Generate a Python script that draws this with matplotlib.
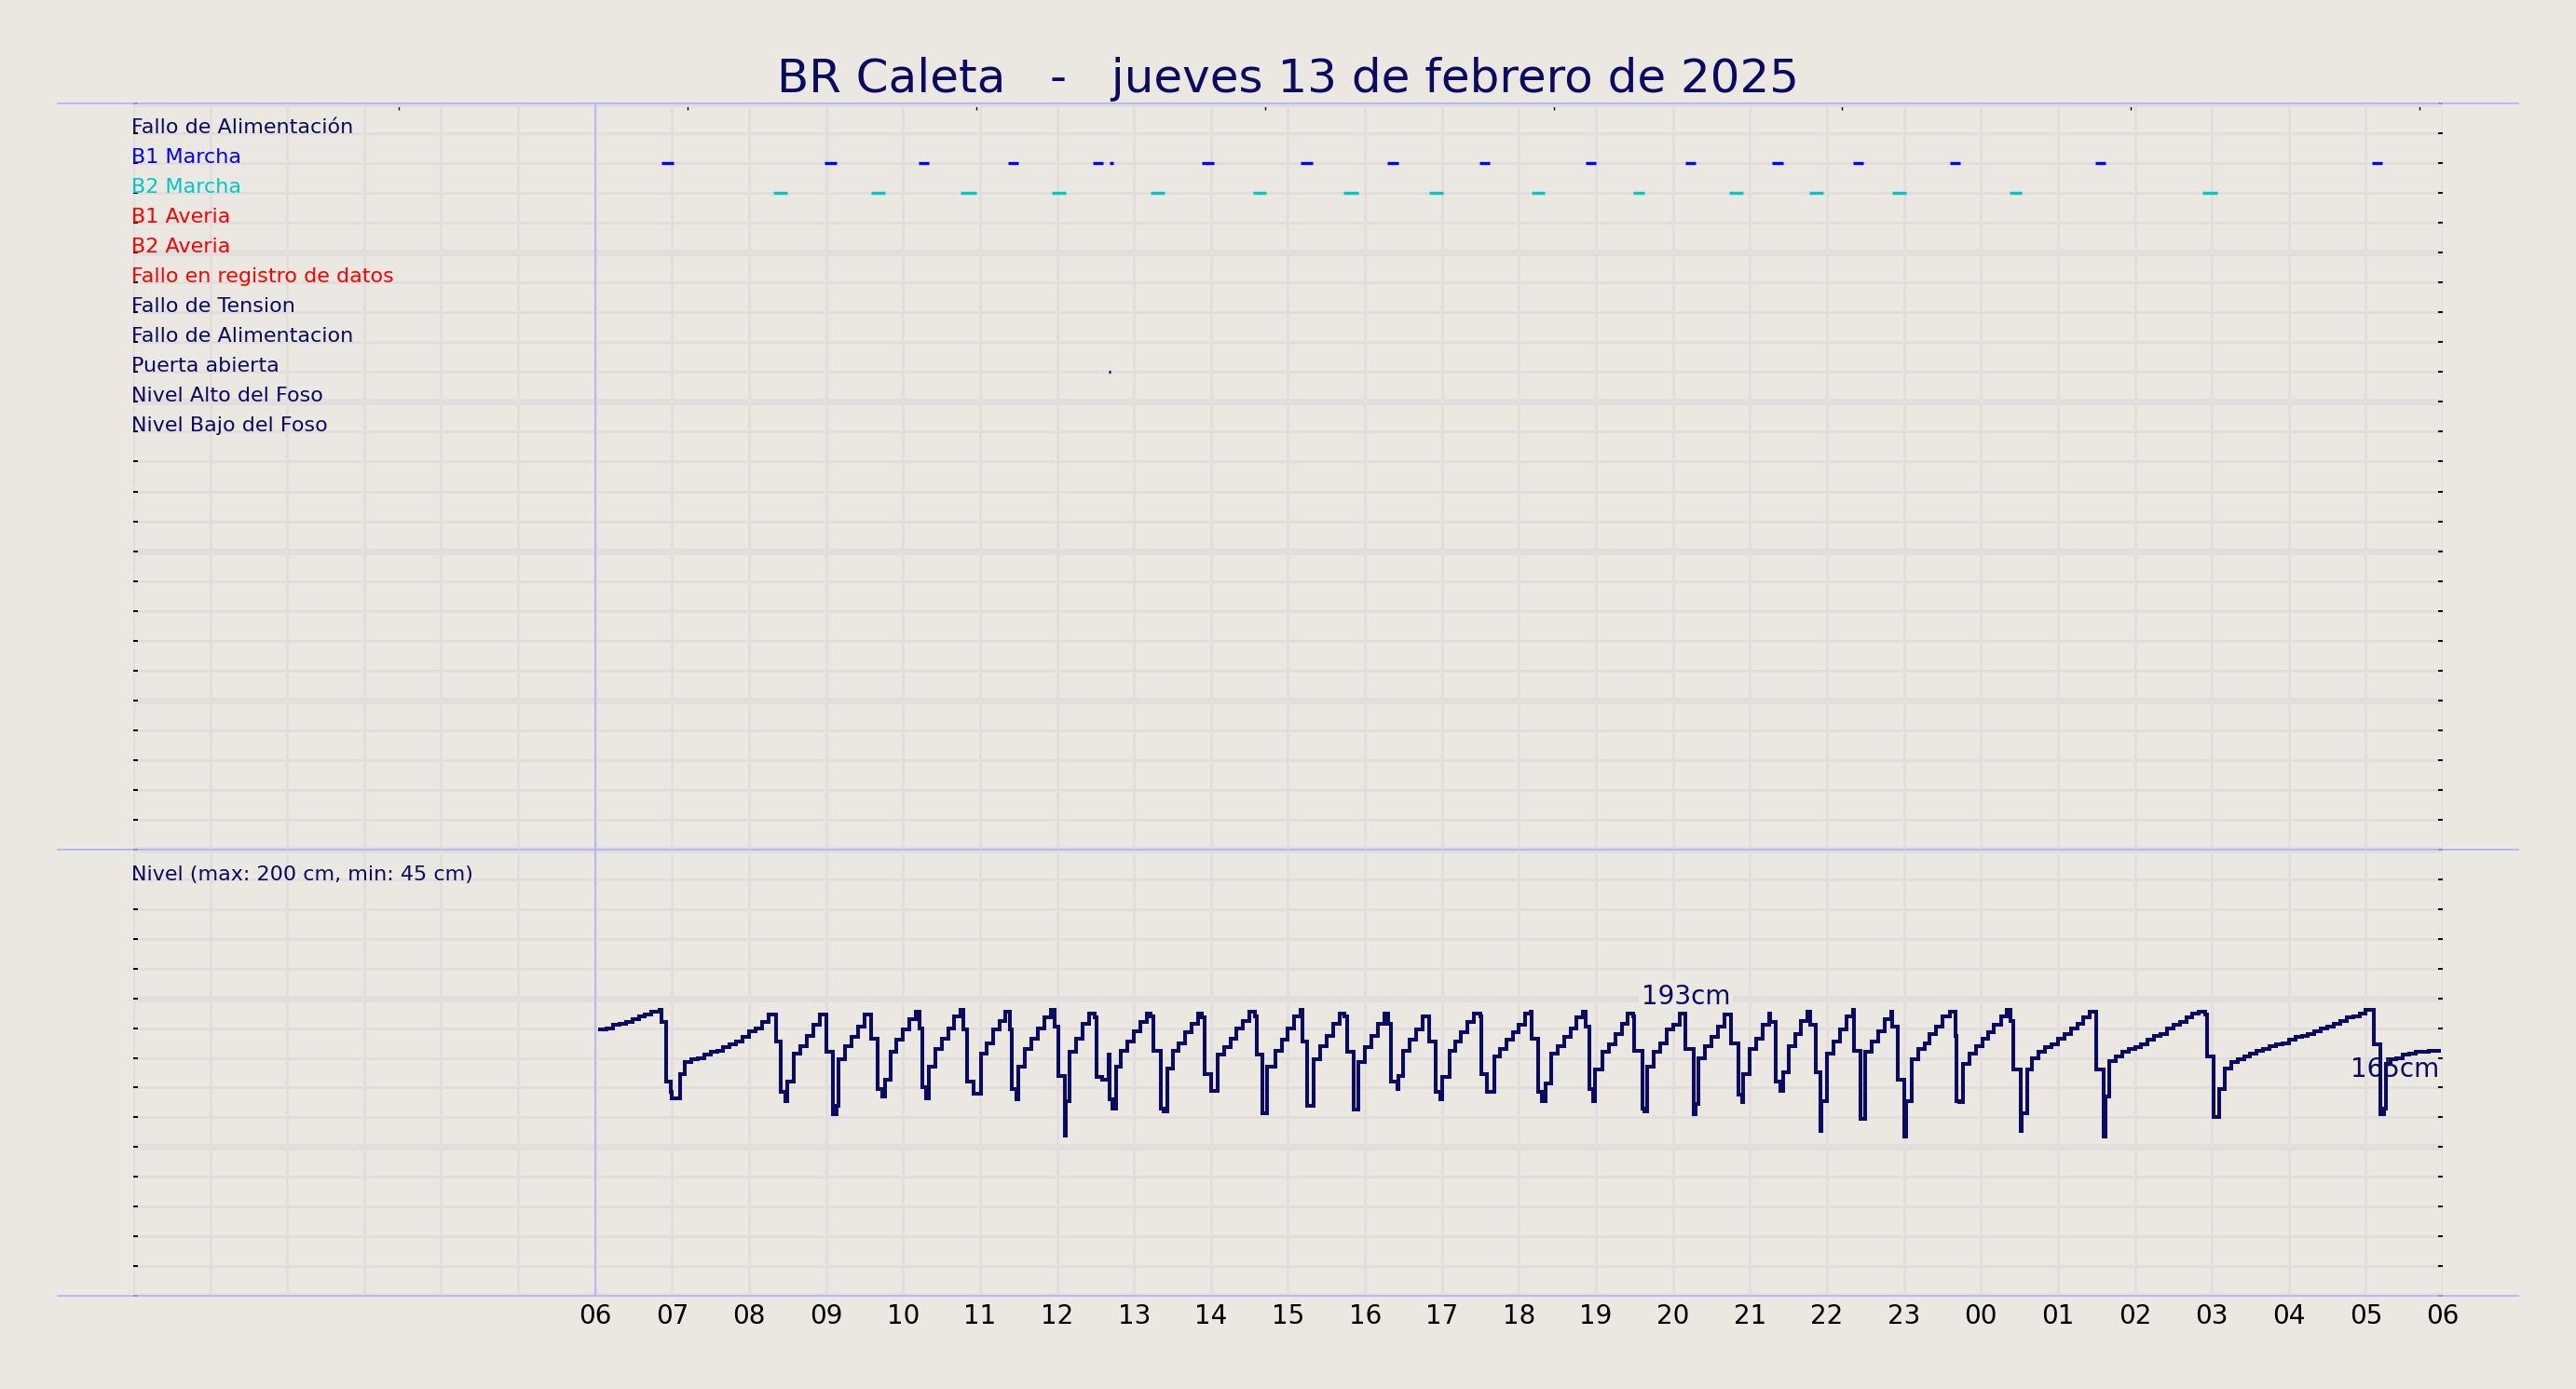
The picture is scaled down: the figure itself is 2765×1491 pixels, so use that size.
import matplotlib
matplotlib.use("Agg")
import matplotlib.pyplot as plt

TITLE = "BR Caleta   -   jueves 13 de febrero de 2025"
BG = "#ebe7e1"
GRID = "#e2dedd"
NAVY = "#0a0a62"
LAVENDER = "#b0b0ff"

# signal rows (top panel)
signal_names = ["Fallo de Alimentación", "B1 Marcha", "B2 Marcha", "B1 Averia", "B2 Averia",
                "Fallo en registro de datos", "Fallo de Tension", "Fallo de Alimentacion",
                "Puerta abierta", "Nivel Alto del Foso", "Nivel Bajo del Foso"]
signal_colors = [NAVY, "#0000ff", "#00c8c8", "#ff0000", "#ff0000",
                 "#ff0000", NAVY, NAVY, NAVY, NAVY, NAVY]

# on/off periods, minutes after 06:00
b1_start = [52, 179, 252, 322, 388, 401, 473, 550, 617, 689, 772, 850, 917, 980, 1056, 1169, 1385]
b1_end = [61, 188, 260, 330, 396, 404, 482, 559, 626, 697, 780, 858, 926, 988, 1064, 1177, 1393]
b2_start = [139, 215, 285, 356, 433, 513, 583, 650, 730, 809, 884, 946, 1011, 1102, 1253]
b2_end = [150, 226, 297, 367, 444, 523, 595, 661, 740, 818, 895, 957, 1022, 1112, 1264]
door_start = [400.5]
door_end = [402]

# level readings (minutes after 06:00, cm)
level_min = [
    4, 9, 14, 19, 24, 29, 34, 39, 44, 50,
    52, 55, 59, 60, 66, 70, 75, 80, 85, 90, 95, 100, 105, 110, 115, 120, 125, 130, 135,
    141, 145, 148, 150, 155, 160, 165, 170, 175,
    180, 185, 188, 190, 195, 200, 205, 210,
    215, 220, 224, 226, 230, 235, 240, 245, 250,
    253, 255, 258, 260, 265, 270, 275, 280, 285,
    287, 290, 295, 301, 305, 310, 315, 320,
    323, 325, 328, 330, 335, 340, 345, 350, 355,
    358, 361, 366, 367, 370, 375, 380, 385,
    389, 391, 395, 400, 401, 403, 406, 410, 415, 420, 425, 430,
    433, 435, 441, 443, 446, 450, 455, 460, 465, 470,
    473, 475, 480, 485, 490, 495, 500, 505, 510,
    514, 516, 520, 524, 530, 535, 540, 545, 550,
    551, 555, 560, 565, 570, 575, 580,
    584, 586, 591, 595, 600, 605, 610, 615,
    618, 620, 625, 626, 630, 635, 640, 645,
    650, 655, 659, 660, 666, 670, 675, 680, 685,
    690, 691, 695, 701, 705, 710, 715, 720, 725, 729,
    730, 735, 738, 741, 745, 750, 755, 760, 765, 770,
    772, 775, 778, 779, 785, 790, 795, 800, 805,
    809, 810, 816, 818, 820, 825, 830, 835, 840, 845,
    850, 856, 858, 860, 865, 870, 875, 880,
    885, 891, 894, 895, 900, 905, 910, 915,
    916, 920, 924, 926, 930, 935, 940, 945,
    947, 951, 955, 956, 960, 965, 970, 975, 980,
    981, 986, 990, 995, 1000, 1005, 1010,
    1011, 1015, 1020, 1022, 1026, 1031, 1036, 1040, 1045, 1050, 1056,
    1060, 1061, 1063, 1066, 1071, 1076, 1081, 1086, 1090, 1096, 1100,
    1103, 1105, 1111, 1112, 1116, 1120, 1125, 1130, 1135, 1140, 1145, 1150, 1155, 1160, 1165,
    1170, 1176, 1177, 1180, 1185, 1190, 1195, 1200, 1205, 1210, 1215, 1220, 1225, 1230, 1235,
    1240, 1245, 1250,
    1255, 1256, 1261, 1266, 1270, 1275, 1280, 1285, 1290, 1295, 1300, 1305, 1310, 1315, 1320,
    1325, 1330, 1335, 1340, 1345, 1350, 1355, 1360, 1365, 1370, 1375, 1380,
    1386, 1391, 1394, 1396, 1399, 1404, 1409, 1414, 1419, 1424, 1429, 1437,
]
level_cm = [
    179, 180, 182, 183, 184, 186, 188, 189, 191, 192,
    184, 144, 137, 133, 149, 157, 159, 160, 162, 164, 165, 167, 169, 171, 174, 178, 180, 184, 189,
    171, 137, 131, 144, 163, 168, 175, 182, 189,
    164, 122, 128, 159, 168, 174, 181, 189,
    173, 139, 134, 145, 164, 172, 179, 186, 191,
    180, 140, 133, 154, 166, 173, 180, 188, 192,
    179, 144, 136, 163, 170, 179, 185, 191,
    179, 139, 132, 154, 166, 173, 180, 187, 192,
    181, 148, 108, 131, 164, 173, 183, 190,
    187, 147, 145, 162, 132, 126, 154, 165, 171, 178, 184, 190,
    188, 165, 126, 124, 153, 165, 170, 177, 183, 190,
    187, 149, 138, 162, 167, 173, 180, 185, 191,
    188, 162, 123, 154, 165, 172, 180, 188, 192,
    171, 128, 159, 168, 175, 183, 190,
    188, 164, 125, 157, 167, 175, 183, 190,
    183, 144, 139, 148, 165, 172, 179, 188,
    171, 137, 132, 147, 165, 171, 177, 184, 190,
    188, 149, 137, 161, 166, 172, 177, 182, 190, 191,
    173, 137, 131, 143, 163, 168, 174, 180, 187, 191,
    181, 139, 131, 152, 164, 169, 176, 183, 190,
    188, 165, 126, 124, 154, 164, 170, 179, 182, 190,
    166, 122, 129, 160, 168, 174, 181, 189,
    170, 135, 130, 149, 166, 173, 182, 190,
    184, 144, 138, 150, 168, 176, 185, 191,
    182, 150, 111, 131, 163, 171, 179, 188, 192,
    165, 119, 164, 171, 178, 186, 191,
    181, 145, 107, 131, 159, 166, 170, 176, 181, 188, 191,
    175, 131, 130, 156, 163, 168, 173, 177, 182, 188, 192,
    185, 152, 111, 123, 152, 160, 164, 167, 169, 173, 176, 180, 183, 187, 191,
    152, 107, 134, 158, 161, 164, 166, 167, 169, 172, 175, 176, 180, 182, 184,
    187, 190, 191,
    189, 161, 120, 139, 153, 157, 159, 161, 163, 165, 166, 168, 169, 170, 172,
    174, 175, 176, 178, 180, 181, 183, 185, 187, 188, 190, 192,
    169, 122, 126, 156, 159, 160, 162, 163, 164, 164, 165, 165,
]
level_max_cm = 193
level_max_min = 850
level_text = "Nivel (max: 200 cm, min: 45 cm)"

hour_labels = ["06", "07", "08", "09", "10", "11", "12", "13", "14", "15", "16", "17", "18",
               "19", "20", "21", "22", "23", "00", "01", "02", "03", "04", "05", "06"]
top_ticks = [3.45, 7.2, 10.95, 14.7, 18.45, 22.2, 25.95, 29.7]


def to_h(m):
    return 6 + m / 60.0


fig = plt.figure(figsize=(27.65, 14.91), dpi=100, facecolor=BG)
ax_sig = fig.add_axes([0.0517, 0.3883, 0.8966, 0.5373])
ax_lvl = fig.add_axes([0.0517, 0.0671, 0.8966, 0.3212])

for ax in (ax_sig, ax_lvl):
    ax.set_facecolor(BG)
    for s in ax.spines.values():
        s.set_visible(False)
    ax.set_xlim(0, 30)
    ax.set_xticks(range(0, 31), minor=True)
    ax.set_axisbelow(True)
    ax.grid(True, which="minor", axis="x", color=GRID, lw=2.3)
    ax.grid(True, which="major", axis="y", color=GRID, lw=5.2)
    ax.grid(True, which="minor", axis="y", color=GRID, lw=2.1)
    ax.tick_params(axis="y", which="both", left=True, right=True, labelleft=False,
                   direction="in", length=3.5, width=1.4, color="black")
    ax.axvline(6, color=LAVENDER, lw=1.2, zorder=1.5)

# top panel: signals
ax_sig.set_ylim(25, 0)
ax_sig.set_yticks(range(0, 26, 5))
ax_sig.set_yticks(range(0, 26), minor=True)
ax_sig.set_xticks(top_ticks)
ax_sig.tick_params(axis="x", which="major", bottom=False, top=True, labelbottom=False,
                   direction="in", length=5, width=1, color="black")
ax_sig.tick_params(axis="x", which="minor", length=0)

for i, (name, c) in enumerate(zip(signal_names, signal_colors)):
    ax_sig.text(-0.02, i + 1.0, name, color=c, fontsize=16, ha="left", va="baseline")

bars = [(1, b1_start, b1_end, "#0000ff"), (2, b2_start, b2_end, "#00c8c8"),
        (8, door_start, door_end, NAVY)]
for row, st, en, c in bars:
    ax_sig.hlines([row + 1] * len(st), [to_h(m) for m in st], [to_h(m) for m in en],
                  colors=c, lw=2.4, capstyle="butt", zorder=3)

# bottom panel: level
ax_lvl.set_ylim(0, 300)
ax_lvl.set_yticks(range(0, 301, 100))
ax_lvl.set_yticks(range(0, 301, 20), minor=True)
ax_lvl.set_xticks(range(6, 31))
ax_lvl.set_xticklabels(hour_labels)
ax_lvl.grid(True, which="major", axis="x", color=GRID, lw=2.3)
ax_lvl.tick_params(axis="x", which="both", length=0, labelsize=20, pad=6)

xs = [to_h(m) for m in level_min]
ax_lvl.step(xs, level_cm, where="post", color=NAVY, lw=2.9,
            solid_joinstyle="miter", zorder=3)
ax_lvl.text(-0.02, 279.5, level_text, color=NAVY, fontsize=16, ha="left", va="baseline")

box = dict(boxstyle="square,pad=0.1", facecolor=BG, edgecolor="none")
ax_lvl.text(to_h(level_max_min), level_max_cm - 1, f"{level_max_cm}cm", color=NAVY,
            fontsize=20, ha="center", va="bottom", bbox=box, zorder=2.5)
ax_lvl.text(xs[-1], level_cm[-1] - 4, f"{level_cm[-1]}cm", color=NAVY,
            fontsize=20, ha="right", va="top", zorder=2.5)

# lavender frame lines across both panels
for ax, yy in ((ax_sig, 1), (ax_lvl, 1), (ax_lvl, 0)):
    ax.plot([-0.0328, 1.0327], [yy, yy], transform=ax.transAxes, clip_on=False,
            color=LAVENDER, lw=1.2, zorder=1.5)

fig.text(0.5, 0.9433, TITLE, ha="center", va="center", fontsize=36, color=NAVY)

fig.savefig("out.png", dpi=100, facecolor=BG)
